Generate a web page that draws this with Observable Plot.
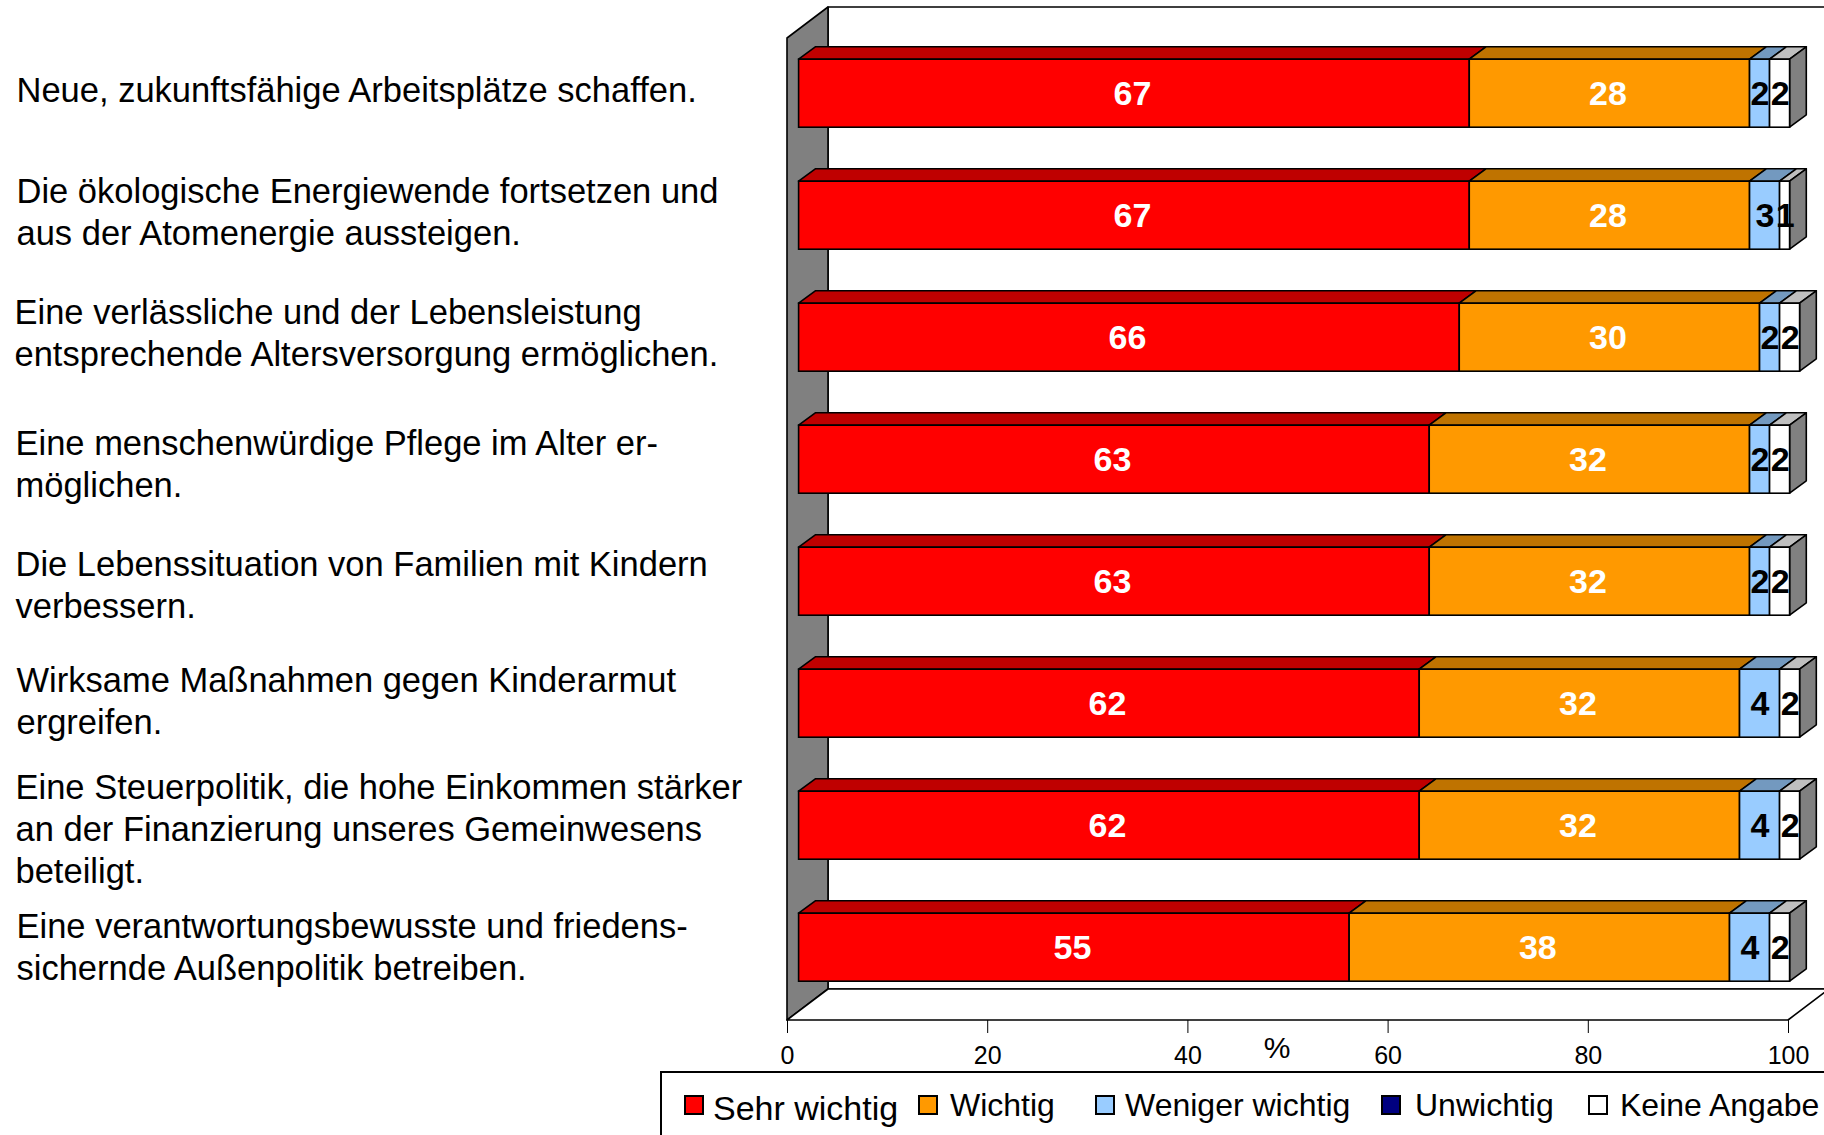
<!DOCTYPE html>
<html><head><meta charset="utf-8">
<script src="https://cdn.jsdelivr.net/npm/d3@7"></script>
<script src="https://cdn.jsdelivr.net/npm/@observablehq/plot@0.6"></script>
<style>
html,body{margin:0;padding:0;background:white;overflow:hidden;}
body{width:1824px;height:1135px;position:relative;font-family:"Liberation Sans",Arial,sans-serif;}
#chart svg{display:block}
#legend{position:absolute;left:660px;top:1071px;width:1200px;height:100px;border-top:2px solid #000;border-left:2px solid #000;}
.sw{position:absolute;width:16px;height:16px;border:2px solid #000;top:22px}
.lt{position:absolute;font-size:32px;line-height:40px;top:12px;white-space:nowrap;color:#000}
</style></head><body>
<div id="chart"></div><div id="legend"></div>
<script>
// ---- data ----
const items = [
  "Neue, zukunftsfähige Arbeitsplätze schaffen.",
  "Die ökologische Energiewende fortsetzen und\naus der Atomenergie aussteigen.",
  "Eine verlässliche und der Lebensleistung\nentsprechende Altersversorgung ermöglichen.",
  "Eine menschenwürdige Pflege im Alter er-\nmöglichen.",
  "Die Lebenssituation von Familien mit Kindern\nverbessern.",
  "Wirksame Maßnahmen gegen Kinderarmut\nergreifen.",
  "Eine Steuerpolitik, die hohe Einkommen stärker\nan der Finanzierung unseres Gemeinwesens\nbeteiligt.",
  "Eine verantwortungsbewusste und friedens-\nsichernde Außenpolitik betreiben."
];
const categories = ["Sehr wichtig", "Wichtig", "Weniger wichtig", "Unwichtig", "Keine Angabe"];
const sehrWichtig    = [67, 67, 66, 63, 63, 62, 62, 55];
const wichtig        = [28, 28, 30, 32, 32, 32, 32, 38];
const wenigerWichtig = [2, 3, 2, 2, 2, 4, 4, 4];
const unwichtig      = [0, 0, 0, 0, 0, 0, 0, 0];
const keineAngabe    = [2, 1, 2, 2, 2, 2, 2, 2];
const xTicks = [0, 20, 40, 60, 80, 100];
const axisLabel = "%";

// ---- styles ----
const colors     = ["#FF0000", "#FF9900", "#99CCFF", "#000080", "#FFFFFF"];
const topColors  = ["#BF0000", "#BF7300", "#7399BF", "#000060", "#BFBFBF"];
const sideColors = ["#800000", "#804C00", "#4C6680", "#000040", "#808080"];
const valueColors = ["white", "white", "black", "white", "black"];
const WALL = [41, -31];     // full depth of the 3D box (px)
const OFF = [11.6, -8.8];   // offset of the bar front plane
const DEPTH = [16.7, -12.4]; // depth of the bars
const SW = 1.6;
const labelNudge = [-5, -5, -6, 3, 2, -4, 2, -2]; // small vertical style nudges of the category labels (px)
const labelIndent = [0, 0, -2, -1, -1, 0, -1, 0];  // small horizontal style nudges (px)

// ---- derived table ----
const series = [sehrWichtig, wichtig, wenigerWichtig, unwichtig, keineAngabe];
const segments = [];
items.forEach((item, i) => {
  let acc = 0;
  series.forEach((vals, j) => {
    const v = vals[i];
    if (v > 0) segments.push({item, cat: categories[j], j, value: v, x1: acc, x2: acc + v});
    acc += v;
  });
});
const lastSegments = items.map(item => segments.filter(s => s.item === item).at(-1));

function frame3d(index, scales, values, dims) {
  const {x} = scales;
  const top = dims.marginTop, bottom = dims.height - dims.marginBottom;
  const x0 = x(0), x1 = x(100);
  const g = d3.create("svg:g").attr("stroke", "black").attr("stroke-width", SW).attr("stroke-linejoin", "round");
  g.append("rect").attr("x", x0 + WALL[0]).attr("y", top + WALL[1]).attr("width", x1 - x0).attr("height", bottom - top).attr("fill", "white");
  g.append("path").attr("fill", "#808080")
    .attr("d", `M${x0},${top}L${x0 + WALL[0]},${top + WALL[1]}L${x0 + WALL[0]},${bottom + WALL[1]}L${x0},${bottom}Z`);
  g.append("path").attr("fill", "white")
    .attr("d", `M${x0},${bottom}L${x1},${bottom}L${x1 + WALL[0]},${bottom + WALL[1]}L${x0 + WALL[0]},${bottom + WALL[1]}Z`);
  return g.node();
}

function barFaces(index, scales) {
  const {x, y} = scales;
  const bw = y.bandwidth();
  const g = d3.create("svg:g").attr("stroke", "black").attr("stroke-width", SW).attr("stroke-linejoin", "round");
  for (const s of segments) {
    const a = x(s.x1) + OFF[0], b = x(s.x2) + OFF[0], t = y(s.item) + OFF[1];
    g.append("path").attr("fill", topColors[s.j])
      .attr("d", `M${a},${t}L${b},${t}L${b + DEPTH[0]},${t + DEPTH[1]}L${a + DEPTH[0]},${t + DEPTH[1]}Z`);
  }
  for (const s of lastSegments) {
    const b = x(s.x2) + OFF[0], t = y(s.item) + OFF[1];
    g.append("path").attr("fill", sideColors[s.j])
      .attr("d", `M${b},${t}L${b + DEPTH[0]},${t + DEPTH[1]}L${b + DEPTH[0]},${t + bw + DEPTH[1]}L${b},${t + bw}Z`);
  }
  return g.node();
}

const labelMarks = items.map((item, i) => Plot.text([item], {
  y: d => d, text: d => d, frameAnchor: "left", textAnchor: "start",
  dx: -771 + labelIndent[i], dy: OFF[1] + labelNudge[i], fontSize: 34.5, lineHeight: 1.215, fill: "black"
}));

const chart = Plot.plot({
  width: 1824, height: 1068,
  marginLeft: 787, marginRight: 36, marginTop: 38, marginBottom: 48,
  style: {fontFamily: '"Liberation Sans", Arial, sans-serif', fontSize: "25px", background: "white", overflow: "hidden", color: "black"},
  x: {domain: [0, 100], ticks: xTicks, tickSize: 13, tickPadding: 13, label: null},
  y: {domain: items, paddingInner: 0.44, paddingOuter: 0.225, axis: null},
  color: {domain: categories, range: colors},
  marks: [
    frame3d,
    barFaces,
    Plot.barX(segments, {x1: "x1", x2: "x2", y: "item", fill: "cat", stroke: "black", strokeWidth: SW, dx: OFF[0], dy: OFF[1]}),
    Plot.text(segments.filter(d => valueColors[d.j] === "white"), {x: d => (d.x1 + d.x2) / 2, y: "item", text: d => String(d.value), fill: "white", fontWeight: "bold", fontSize: 34, dx: OFF[0] - 2, dy: OFF[1]}),
    Plot.text(segments.filter(d => valueColors[d.j] === "black"), {x: d => (d.x1 + d.x2) / 2, y: "item", text: d => String(d.value), fill: "black", fontWeight: "bold", fontSize: 34, dx: OFF[0], dy: OFF[1]}),
    Plot.text([axisLabel], {text: d => d, frameAnchor: "bottom", dx: -11, dy: 37, fontSize: 30, fill: "black"}),
    ...labelMarks
  ]
});
document.getElementById("chart").append(chart);

// ---- legend ----
const legendSwatchLeft = [22, 256, 433, 719, 926];
const legendTextLeft = [51, 288, 463, 753, 958];
const legend = document.getElementById("legend");
categories.forEach((c, j) => {
  const sw = document.createElement("div");
  sw.className = "sw"; sw.style.left = legendSwatchLeft[j] + "px"; sw.style.background = colors[j];
  legend.append(sw);
  const t = document.createElement("div");
  t.className = "lt"; t.style.left = legendTextLeft[j] + "px"; t.textContent = c;
  if (j === 0) { t.style.fontSize = "34px"; t.style.top = "15px"; }
  legend.append(t);
});
</script></body></html>
